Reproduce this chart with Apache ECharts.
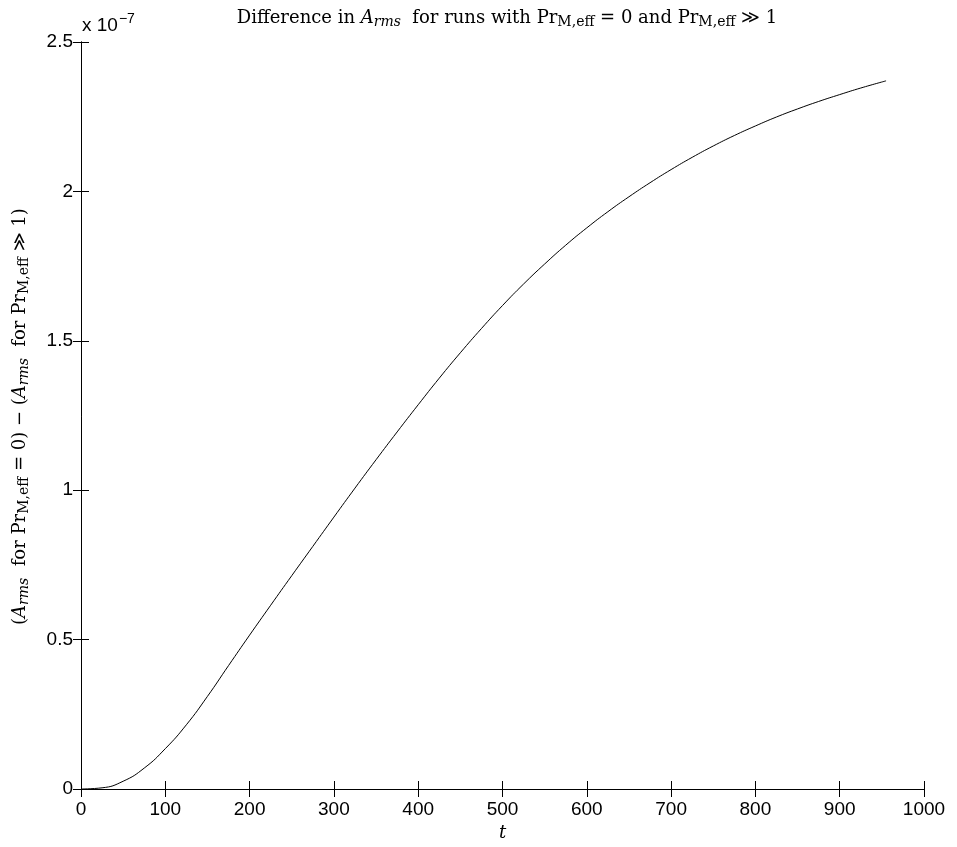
<!DOCTYPE html>
<html>
<head>
<meta charset="utf-8">
<script src="https://cdn.jsdelivr.net/npm/echarts@6/dist/echarts.min.js"></script>
<style>
  html, body { margin: 0; padding: 0; background: #fff; }
  #chart { width: 957px; height: 847px; }
</style>
</head>
<body>
<div id="chart"></div>
<script>
// Time samples t and the A_rms difference, in units of 1e-7
const tValues = [0, 25, 50, 75, 100, 125, 150, 175, 200, 225, 250, 275, 300, 325, 350, 375, 400, 425, 450, 475, 500, 525, 550, 575, 600, 625, 650, 675, 700, 725, 750, 775, 800, 825, 850, 875, 900, 925, 955];
const diffValues = [0, 0.004, 0.026, 0.07, 0.135, 0.215, 0.31, 0.413, 0.515, 0.615, 0.714, 0.812, 0.91, 1.007, 1.102, 1.195, 1.286, 1.375, 1.46, 1.541, 1.618, 1.69, 1.757, 1.82, 1.878, 1.932, 1.982, 2.029, 2.073, 2.114, 2.152, 2.187, 2.219, 2.249, 2.276, 2.301, 2.324, 2.346, 2.37];
const xTicks = [0, 100, 200, 300, 400, 500, 600, 700, 800, 900, 1000];
const yTicks = [0, 0.5, 1, 1.5, 2, 2.5];

const seriesData = tValues.map((t, i) => [t, diffValues[i]]);

const chart = echarts.init(document.getElementById('chart'), null, { renderer: 'canvas' });

const serif = 'DejaVu Serif';
const sans = 'Liberation Sans';

function mathStyles(size, subSize) {
  return {
    n: { fontFamily: serif, fontWeight: 'normal', fontSize: size, color: '#000' },
    it: { fontFamily: serif, fontWeight: 'normal', fontStyle: 'italic', fontSize: size, color: '#000' },
    subit: { fontFamily: serif, fontWeight: 'normal', fontStyle: 'italic', fontSize: subSize, color: '#000', padding: [8, 0, 0, 0] },
    sub: { fontFamily: serif, fontWeight: 'normal', fontSize: subSize, color: '#000', padding: [8, 0, 0, 0] }
  };
}

const boxAxisLine = { show: true, lineStyle: { color: '#000', width: 1 } };
const tickStyle = { color: '#000', width: 1 };

const option = {
  animation: false,
  backgroundColor: '#fff',
  title: {
    text: '{n|Difference in }{it|A}{subit|rms}{n|  for runs with Pr}{sub|M,eff}{n| = 0 and Pr}{sub|M,eff}{n| ≫ 1}',
    left: 502,
    top: 2,
    textAlign: 'center',
    textStyle: { fontWeight: 'normal', rich: mathStyles(18, 14) }
  },
  grid: { left: 81, right: 33, top: 42, bottom: 54, containLabel: false },
  xAxis: [
    {
      type: 'value', min: 0, max: 1000, interval: 100,
      position: 'bottom',
      name: 't', nameLocation: 'middle', nameGap: 30,
      nameTextStyle: { fontFamily: serif, fontStyle: 'italic', fontSize: 18, color: '#000' },
      axisLine: boxAxisLine,
      axisTick: { show: true, inside: true, length: 8, lineStyle: tickStyle },
      axisLabel: { show: true, fontFamily: sans, fontSize: 19, color: '#000', margin: 9,
        formatter: v => String(v) },
      splitLine: { show: false }
    },
    {
      type: 'value', min: 0, max: 1000, interval: 100,
      position: 'top',
      axisLine: boxAxisLine,
      axisTick: { show: true, inside: true, length: 8, lineStyle: tickStyle },
      axisLabel: { show: false },
      splitLine: { show: false }
    }
  ],
  yAxis: [
    {
      type: 'value', min: -0.007, max: 2.5,
      position: 'left',
      name: '{n|(}{it|A}{subit|rms}{n|  for Pr}{sub|M,eff}{n| = 0) − (}{it|A}{subit|rms}{n|  for Pr}{sub|M,eff}{n| ≫ 1)}',
      nameLocation: 'middle', nameGap: 50, nameRotate: 90,
      nameTextStyle: { fontWeight: 'normal', rich: mathStyles(18, 14) },
      axisLine: boxAxisLine,
      axisTick: { show: true, inside: true, length: 8, lineStyle: tickStyle, customValues: yTicks },
      axisLabel: { show: true, fontFamily: sans, fontSize: 19, color: '#000', margin: 8,
        customValues: yTicks, formatter: v => String(v) },
      splitLine: { show: false }
    },
    {
      type: 'value', min: -0.007, max: 2.5,
      position: 'right',
      axisLine: boxAxisLine,
      axisTick: { show: true, inside: true, length: 8, lineStyle: tickStyle, customValues: yTicks },
      axisLabel: { show: false },
      splitLine: { show: false }
    }
  ],
  graphic: [
    {
      type: 'text', left: 82, top: 12,
      style: {
        text: '{a|x 10}{b|−7}',
        rich: {
          a: { fontFamily: sans, fontSize: 19, fill: '#000', padding: [8, 0, 0, 0] },
          b: { fontFamily: sans, fontSize: 14, fill: '#000', padding: [0, 0, 6, 1] }
        }
      }
    }
  ],
  series: [
    {
      type: 'line',
      xAxisIndex: 0, yAxisIndex: 0,
      data: seriesData,
      smooth: 0.5,
      showSymbol: false,
      lineStyle: { color: '#000', width: 1 }
    }
  ]
};

chart.setOption(option);
</script>
</body>
</html>
